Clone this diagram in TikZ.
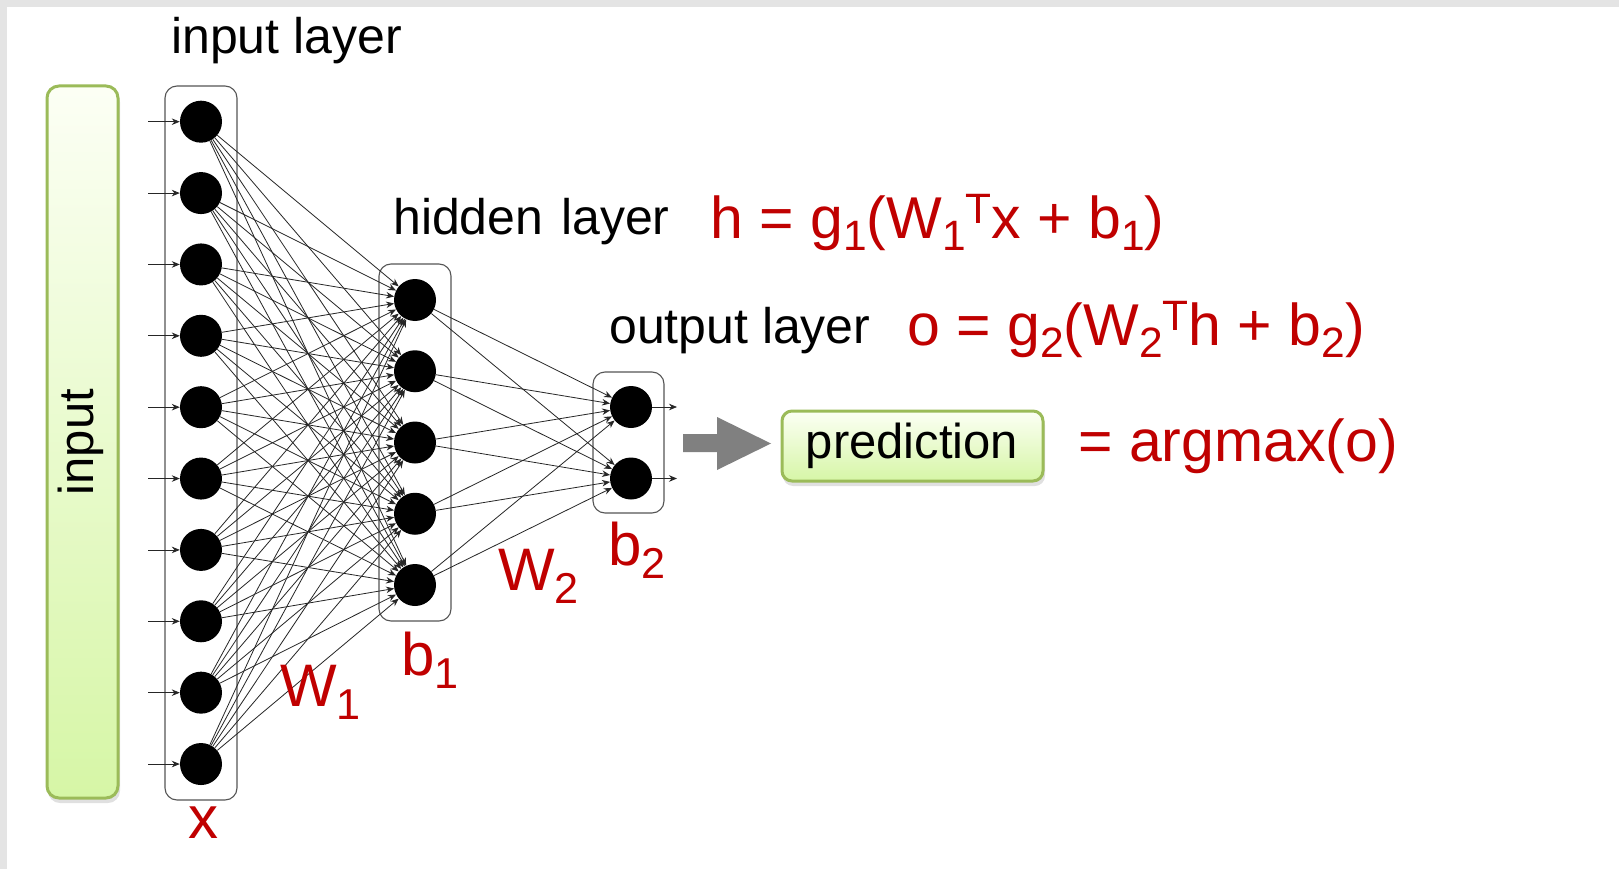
\documentclass[tikz,border=0pt]{standalone}
\usepackage{fontspec}
\setmainfont{Liberation Sans}
\usepackage{graphicx}
\usetikzlibrary{arrows.meta}
\definecolor{myred}{HTML}{C00000}
\definecolor{boxgreen}{HTML}{9BBB59}
\definecolor{bggray}{HTML}{E4E4E4}
\definecolor{framegray}{HTML}{555555}
\newcommand\mylo[1]{\raisebox{-0.22em}{\scalebox{0.72}{#1}}}
\newcommand\myhi[1]{\raisebox{0.24em}{\scalebox{0.72}{#1}}}
\tikzset{
  neuron/.style={circle, fill=black, inner sep=0pt, minimum size=42pt},
  layerbox/.style={draw=framegray, line width=1.1pt, rounded corners=12pt},
  edge/.style={draw=black!85, line width=0.8pt, -{Stealth[length=8pt,width=6.5pt]}},
  blacklabel/.style={inner sep=0pt, anchor=base west, font=\fontsize{50pt}{55pt}\selectfont},
  redlabel/.style={inner sep=0pt, anchor=base west, text=myred, font=\fontsize{60pt}{66pt}\selectfont},
  formula/.style={inner sep=0pt, anchor=base west, text=myred, font=\fontsize{59pt}{64pt}\selectfont},
  greenbox/.style={draw=boxgreen, line width=3pt, top color=green!6!lime!4!white, bottom color={rgb,255:red,214;green,246;blue,166}},
}
\begin{document}
\begin{tikzpicture}[x=1pt,y=-1pt]
\useasboundingbox (0,0) rectangle (1619,869);
\fill[white] (0,0) rectangle (1619,869);
\fill[bggray] (0,0) rectangle (1619,7);
\fill[bggray] (0,0) rectangle (7,869);

% input bar
\fill[black, opacity=0.12, rounded corners=12pt] (48,90) rectangle (120,803);
\shade[greenbox, rounded corners=12pt] (47,86) rectangle (118,798);
\node[rotate=90, inner sep=0pt, font=\fontsize{49pt}{55pt}\selectfont] (inputtxt) at (81,442) {input};

% layer boxes
\draw[layerbox] (165,86) rectangle (237,800);
\draw[layerbox] (379,264) rectangle (451,621);
\draw[layerbox] (593,372) rectangle (664,513);

% neurons
\foreach \k in {1,...,10}{
  \node[neuron] (i\k) at (201,{121.7+(\k-1)*71.37}) {};
  \coordinate (in\k) at (148,{121.7+(\k-1)*71.37});
}
\foreach \k in {1,...,5}{
  \node[neuron] (h\k) at (415,{300+(\k-1)*71.25}) {};
}
\node[neuron] (o1) at (631,407) {};
\node[neuron] (o2) at (631,478.5) {};
\coordinate (out1) at (677,407);
\coordinate (out2) at (677,478.5);

% connections
\foreach \k in {1,...,10}{ \draw[edge] (in\k) -- (i\k); }
\foreach \a in {1,...,10}{
  \foreach \b in {1,...,5}{ \draw[edge] (i\a) -- (h\b); }
}
\foreach \a in {1,...,5}{
  \foreach \b in {1,2}{ \draw[edge] (h\a) -- (o\b); }
}
\draw[edge] (o1) -- (out1);
\draw[edge] (o2) -- (out2);

% gray block arrow
\fill[black!50] (683,434) -- (717,434) -- (717,417) -- (771,443.5) -- (717,470) -- (717,452) -- (683,452) -- cycle;

% prediction box
\fill[black, opacity=0.12, rounded corners=10pt] (783,415) rectangle (1045,486);
\shade[greenbox, rounded corners=10pt] (782,411) rectangle (1043,481);
\node[inner sep=0pt, font=\fontsize{49pt}{55pt}\selectfont] (pred) at (912,446) {prediction};

% black labels
\node[blacklabel] (inlayer) at (171,54) {input layer};
\node[blacklabel] (hidlayer) at (393,234) {hidden\hspace{0.08em} layer};
\node[blacklabel] (outlayer) at (609,343) {output layer};

% formulas
\node[formula] (hform) at (710,238) {h = g\mylo{1}(W\mylo{1}\myhi{T}x + b\mylo{1})};
\node[formula] (oform) at (907,345) {o = g\mylo{2}(W\mylo{2}\myhi{T}h + b\mylo{2})};
\node[formula] (argmax) at (1078,461) {= argmax(o)};

% red labels
\node[redlabel, anchor=base] (xlab) at (203,838) {x};
\node[redlabel] (w1lab) at (280,706) {W\mylo{1}};
\node[redlabel] (b1lab) at (401,675) {b\mylo{1}};
\node[redlabel] (w2lab) at (498,590) {W\mylo{2}};
\node[redlabel] (b2lab) at (608,565) {b\mylo{2}};
\end{tikzpicture}
\end{document}
